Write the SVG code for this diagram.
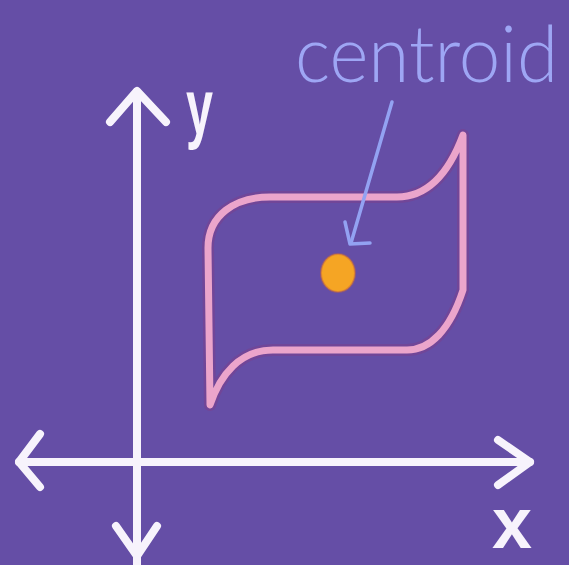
<svg xmlns="http://www.w3.org/2000/svg" width="569" height="565" viewBox="0 0 569 565">
  <style>
    .axis { fill: none; stroke: #f7f3fc; stroke-width: 8; stroke-linecap: round; stroke-linejoin: round; }
    .axislabel { fill: #f7f3fc; font-family: "Liberation Sans", Arial, sans-serif; font-weight: bold; }
    .halo { fill: none; stroke: #7b3f8c; stroke-width: 12; stroke-linejoin: round; opacity: 0.55; }
    .outline { fill: none; stroke: #eba5cb; stroke-width: 7; stroke-linejoin: round; }
    .pointer { fill: none; stroke: #93a2f2; stroke-width: 3.5; stroke-linecap: round; stroke-linejoin: round; }
    .label { fill: #9ea6f4; font-family: "Lato", "Open Sans", "Liberation Sans", sans-serif; font-weight: 300; }
  </style>
  <rect width="569" height="565" fill="#654ea6"/>

  <g id="axes">
    <line class="axis" x1="137" y1="92" x2="137" y2="570"/>
    <polyline class="axis" points="110,122 137,91 166,122"/>
    <polyline class="axis" points="116,526 137,556 157,526"/>
    <line class="axis" x1="19" y1="462" x2="530" y2="462"/>
    <polyline class="axis" points="40,434 19,462 40,487"/>
    <polyline class="axis" points="498,440 530,462 498,485"/>
    <text class="axislabel" x="186" y="134" font-size="78" textLength="27" lengthAdjust="spacingAndGlyphs">y</text>
    <text class="axislabel" x="492" y="548" font-size="72" textLength="40" lengthAdjust="spacingAndGlyphs">x</text>
  </g>

  <g id="shape">
    <path class="halo" d="M 208,248 C 208,215 235,197 270,197 L 397,197 C 430,197 450,170 463,135 L 463,290 C 450,330 430,350 407,350 L 273,350 C 240,350 220,375 210,405 Z"/>
    <path class="outline" d="M 208,248 C 208,215 235,197 270,197 L 397,197 C 430,197 450,170 463,135 L 463,290 C 450,330 430,350 407,350 L 273,350 C 240,350 220,375 210,405 Z"/>
  </g>

  <g id="centroid">
    <ellipse cx="338" cy="273" rx="17" ry="19" fill="#f5a524" stroke="#c9673a" stroke-width="2" stroke-opacity="0.5"/>
  </g>

  <g id="label">
    <text class="label" x="295" y="82" font-size="78" textLength="263" lengthAdjust="spacingAndGlyphs">centroid</text>
  </g>

  <g id="connectors">
    <line class="pointer" x1="392" y1="102" x2="351" y2="243"/>
    <polyline class="pointer" points="345,222 350,244 370,243"/>
  </g>
</svg>
